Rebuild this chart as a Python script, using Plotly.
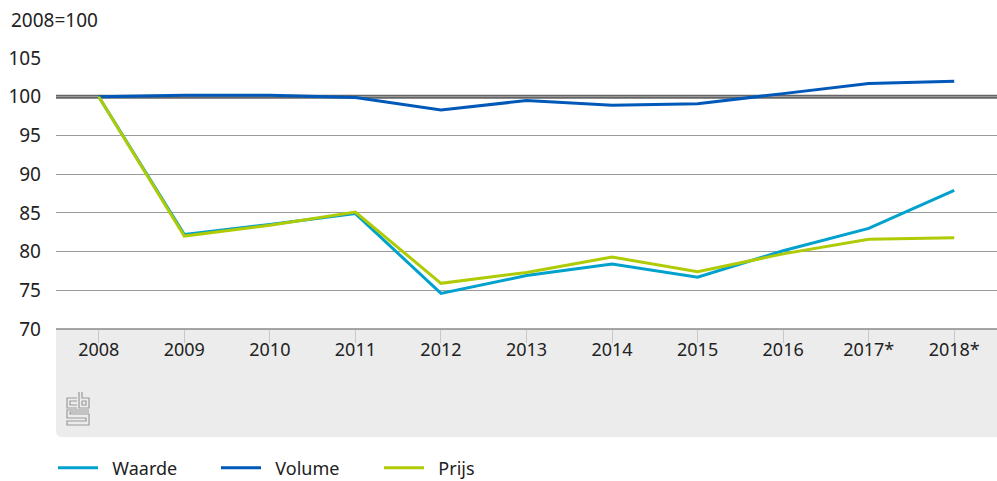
import plotly.graph_objects as go

years = ["2008", "2009", "2010", "2011", "2012", "2013", "2014", "2015", "2016", "2017*", "2018*"]
waarde = [100, 82.2, 83.5, 84.9, 74.6, 76.9, 78.4, 76.7, 80.1, 83.0, 87.9]
volume = [100, 100.2, 100.2, 99.9, 98.3, 99.5, 98.9, 99.1, 100.4, 101.7, 102.0]
prijs = [100, 82.0, 83.4, 85.1, 75.9, 77.3, 79.3, 77.4, 79.7, 81.6, 81.8]
series_names = ["Waarde", "Volume", "Prijs"]

W, H = 997, 481
L, R, T, B = 56, 0, 58, 152
pw, ph = W - L - R, H - T - B

def px(x):
    return (x - L) / pw

def py(y):
    return (H - B - y) / ph

fig = go.Figure()
for name, vals, col in zip(series_names, [waarde, volume, prijs], ["#00a1cd", "#0058b8", "#afcb05"]):
    fig.add_trace(go.Scatter(x=years, y=vals, name="\u00a0\u00a0" + name, mode="lines",
                             line=dict(color=col, width=3)))

shapes = []
# grey band under the plot
x0, x1 = px(56), px(997)
y0, y1 = py(329), py(437)
r = 6
shapes.append(dict(type="path", xref="paper", yref="paper", layer="below",
                   path=f"M {x0},{y0} L {x1},{y0} L {x1},{y1} L {px(56 + r)},{y1} Q {x0},{y1} {x0},{py(437 - r)} Z",
                   fillcolor="#ececec", line=dict(width=0)))
# reference line at 100
shapes.append(dict(type="line", xref="paper", yref="y", x0=0, x1=1, y0=100, y1=100,
                   line=dict(color="#666666", width=4), layer="below"))

# cbs logo (approximation)
def poly(pts):
    return "M " + " L ".join(f"{px(a)},{py(b)}" for a, b in pts)

lc = dict(color="#9a9a9a", width=1.2)
logo_paths = [
    [(77, 398), (67, 398), (67, 408), (77, 408)],
    [(77, 401), (70, 401), (70, 405), (77, 405)],
    [(79, 392), (79, 408), (89, 408), (89, 398), (82, 398), (82, 392)],
    [(82, 401), (86, 401), (86, 405), (82, 405), (82, 401)],
    [(89, 410), (67, 410), (67, 418), (86, 418), (86, 421), (67, 421), (67, 425), (89, 425), (89, 414), (70, 414), (70, 412), (89, 412)],
]
for p in logo_paths:
    shapes.append(dict(type="path", xref="paper", yref="paper", path=poly(p), line=lc))

fig.update_layout(
    width=W, height=H,
    margin=dict(l=L, r=R, t=T, b=B, pad=0, autoexpand=False),
    paper_bgcolor="white", plot_bgcolor="white",
    font=dict(family="'Noto Sans', sans-serif", size=18, color="#222222"),
    shapes=shapes,
    showlegend=True,
    hovermode=False,
    legend=dict(orientation="h", x=px(53), xanchor="left", y=py(468), yanchor="middle",
                entrywidth=108, entrywidthmode="pixels", font=dict(size=18),
                itemwidth=40),
    xaxis=dict(type="category", showgrid=False, zeroline=False, showline=False,
               ticks="outside", ticklen=13, tickwidth=1, tickcolor="#c8c8c8",
               tickfont=dict(size=18), range=[-0.5, 10.5], fixedrange=True,
               ticklabelstandoff=-9, automargin=False),
    yaxis=dict(range=[70, 105], tickvals=[70, 75, 80, 85, 90, 95, 100, 105],
               showgrid=True, gridcolor="#9a9a9a", gridwidth=1, zeroline=False,
               showline=False, ticks="", ticklabelstandoff=14, tickfont=dict(size=19),
               automargin=False, fixedrange=True),
    annotations=[dict(text="2008=100", xref="paper", yref="paper", x=px(9), y=py(20),
                      xanchor="left", yanchor="middle", showarrow=False, font=dict(size=19))],
)
# axis line at 70
fig.add_shape(type="line", xref="paper", yref="paper", x0=0, x1=1, y0=0, y1=0,
              line=dict(color="#888888", width=1.5))

fig.write_html("out.html", config={"displayModeBar": False},
               post_script="document.body.style.margin='0';document.body.style.overflow='hidden';")
